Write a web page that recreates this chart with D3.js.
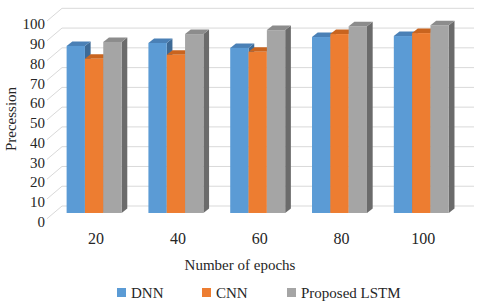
<!DOCTYPE html>
<html>
  <head>
    <meta charset="utf-8">
    <title>Precession vs epochs</title>
    <style>
      body {
        margin: 0;
        background-color: white;
      }
      svg text {
        font-family: "Liberation Serif", "DejaVu Serif", "Times New Roman", serif;
        fill: #262626;
      }
    </style>
  </head>
  <body>
    <div id="chart"></div>

    <script src="https://d3js.org/d3.v7.min.js"></script>
    <script>
      var epochs = ["20", "40", "60", "80", "100"];
      var seriesNames = ["DNN", "CNN", "Proposed LSTM"];
      var dnn = [84.5, 86, 83.5, 89, 89.5];
      var cnn = [78, 80, 81.5, 90.5, 91];
      var lstm = [86.5, 90.5, 92.5, 94.5, 95];
      var yTicks = [0, 10, 20, 30, 40, 50, 60, 70, 80, 90, 100];

      var series = [dnn, cnn, lstm];
      var frontCol = ["#5B9BD5", "#ED7D31", "#A5A5A5"];
      var topCol = ["#4A80B6", "#C9641F", "#8C8C8C"];
      var sideCol = ["#3D6A96", "#A9561C", "#6B6B6B"];

      var width = 480, height = 305;
      var svg = d3.select("#chart").append("svg")
        .attr("width", width)
        .attr("height", height)
        .attr("font-family", "'Liberation Serif', 'DejaVu Serif', serif");

      // oblique depth of the floor and of one bar
      var depth = {x: 15, y: -12.7};
      var barDepth = {x: 5.7, y: -4.5};
      var wallLeft = 62, wallRight = 474;
      var z0 = 0.45;

      var yBack = d3.scaleLinear().domain([0, 100]).range([206, 8.3]);
      var yFront = d3.scaleLinear().domain([0, 100]).range([206 - depth.y, 8.3 - depth.y]);
      var yBar = function(v) { return yFront(v) + z0 * depth.y; };

      var x0 = d3.scaleBand().domain(epochs)
        .range([53.2, 462.2])
        .paddingInner(0.328)
        .paddingOuter(0.164);
      var x1 = d3.scaleBand().domain(d3.range(series.length))
        .range([0, x0.bandwidth()]);

      // gridlines: side wall diagonals + back wall
      var grid = svg.append("g")
        .attr("stroke", "#d9d9d9")
        .attr("stroke-width", 1)
        .attr("fill", "none");
      grid.selectAll(".diag").data(yTicks).enter().append("line")
        .attr("x1", wallLeft - depth.x)
        .attr("y1", function(d) { return yFront(d); })
        .attr("x2", wallLeft)
        .attr("y2", function(d) { return yBack(d); });
      grid.selectAll(".back").data(yTicks).enter().append("line")
        .attr("x1", wallLeft)
        .attr("y1", function(d) { return yBack(d); })
        .attr("x2", wallRight)
        .attr("y2", function(d) { return yBack(d); });

      // y tick labels
      svg.append("g").selectAll("text").data(yTicks).enter().append("text")
        .attr("x", 45)
        .attr("y", function(d) { return yFront(d) + 3; })
        .attr("dy", "0.35em")
        .attr("text-anchor", "end")
        .attr("font-size", 15)
        .text(function(d) { return d; });

      // bars, drawn left to right so neighbours hide the side faces
      var groups = svg.append("g").selectAll("g").data(epochs).enter().append("g");
      groups.each(function(ep, i) {
        var g = d3.select(this);
        series.forEach(function(vals, s) {
          var x = x0(ep) + x1(s);
          var w = x1.bandwidth();
          var yt = yBar(vals[i]);
          var yb = yBar(0);
          var dx = barDepth.x, dy = barDepth.y;
          g.append("polygon")
            .attr("points", [[x + w, yt], [x + w + dx, yt + dy], [x + w + dx, yb + dy], [x + w, yb]].join(" "))
            .attr("fill", sideCol[s]);
          g.append("polygon")
            .attr("points", [[x, yt], [x + w, yt], [x + w + dx, yt + dy], [x + dx, yt + dy]].join(" "))
            .attr("fill", topCol[s]);
          g.append("rect")
            .attr("x", x)
            .attr("y", yt)
            .attr("width", w)
            .attr("height", yb - yt)
            .attr("fill", frontCol[s]);
        });
      });

      // category labels
      svg.append("g").selectAll("text").data(epochs).enter().append("text")
        .attr("x", function(d) { return x0(d) + x0.bandwidth() / 2 + 2; })
        .attr("y", 238)
        .attr("dy", "0.35em")
        .attr("text-anchor", "middle")
        .attr("font-size", 16)
        .text(function(d) { return d; });

      svg.append("text")
        .attr("x", 240)
        .attr("y", 265)
        .attr("dy", "0.35em")
        .attr("text-anchor", "middle")
        .attr("font-size", 15)
        .text("Number of epochs");

      svg.append("text")
        .attr("transform", "translate(11,119) rotate(-90)")
        .attr("dy", "0.35em")
        .attr("text-anchor", "middle")
        .attr("font-size", 15)
        .text("Precession");

      // legend
      var legendX = [117, 202, 287];
      var legend = svg.append("g").selectAll("g").data(seriesNames).enter().append("g")
        .attr("transform", function(d, i) { return "translate(" + legendX[i] + ",288)"; });
      legend.append("rect")
        .attr("width", 9)
        .attr("height", 9)
        .attr("fill", function(d, i) { return frontCol[i]; });
      legend.append("text")
        .attr("x", 14)
        .attr("y", 5)
        .attr("dy", "0.35em")
        .attr("font-size", 15)
        .text(function(d) { return d; });
    </script>
  </body>
</html>
